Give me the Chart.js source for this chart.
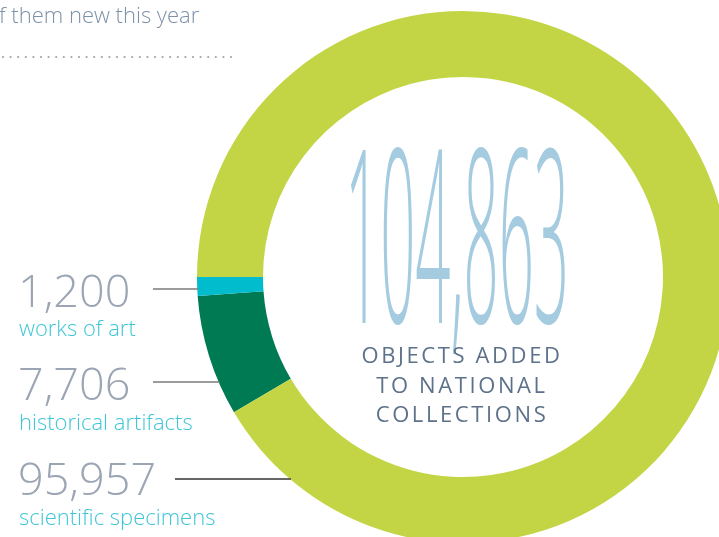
<!DOCTYPE html>
<html><head><meta charset="utf-8">
<script src="https://cdn.jsdelivr.net/npm/chart.js@4.4.1/dist/chart.umd.min.js"></script>
<style>
html,body{margin:0;padding:0;background:#fff;overflow:hidden;width:719px;height:537px;}
#wrap{position:absolute;left:0;top:0;width:760px;height:560px;}
</style></head>
<body>
<div id="wrap"><canvas id="c" width="760" height="560"></canvas></div>
<script>
const categories = ['works of art', 'historical artifacts', 'scientific specimens'];
const values = [1200, 7706, 95957];
const valueLabels = ['1,200', '7,706', '95,957'];
const totalLabel = '104,863';
const centerLines = ['OBJECTS ADDED', 'TO NATIONAL', 'COLLECTIONS'];
const topText = 'f them new this year';
const colors = ['#00bccd', '#007a53', '#c3d545'];

const total = values.reduce((a, b) => a + b, 0);
const order = [1, 0, 2]; // clockwise drawing order
const rotation = 270 - (values[1] + values[0]) / total * 360;

const FONT = '"Open Sans", "Lato", sans-serif';

const textPlugin = {
  id: 'texts',
  afterDraw(chart) {
    const ctx = chart.ctx;
    const arc = chart.getDatasetMeta(0).data[0];
    const cx = arc.x, cy = arc.y, R = arc.outerRadius;
    ctx.save();
    // top text
    ctx.fillStyle = '#7d91a7';
    ctx.font = '300 22px ' + FONT;
    ctx.textAlign = 'left';
    ctx.textBaseline = 'alphabetic';
    ctx.fillText(topText, -1, 23);
    // dotted rule
    ctx.fillStyle = '#9ea3ab';
    for (let x = 3; x <= 231; x += 7.6) {
      ctx.beginPath(); ctx.arc(x, 57, 1.1, 0, Math.PI * 2); ctx.fill();
    }
    // left labels
    const numBase = [307, 400, 495];
    const subBase = [336, 430, 525];
    const lineY = [289, 382, 479];
    const lineX0 = [153, 153, 175];
    const lineCol = ['#7a7a7a', '#7a7a7a', '#333333'];
    for (let i = 0; i < 3; i++) {
      ctx.fillStyle = '#9ba5b4';
      ctx.font = '300 45px ' + FONT;
      ctx.fillText(valueLabels[i], 18, numBase[i]);
      ctx.fillStyle = '#3ec6d7';
      ctx.font = '300 22px ' + FONT;
      ctx.fillText(categories[i], 19, subBase[i]);
      const dy = lineY[i] - cy;
      const xe = cx - Math.sqrt(R * R - dy * dy);
      ctx.strokeStyle = lineCol[i];
      ctx.lineWidth = 1.5;
      ctx.beginPath(); ctx.moveTo(lineX0[i], lineY[i]); ctx.lineTo(xe + 1, lineY[i]); ctx.stroke();
    }
    // center number (condensed)
    ctx.fillStyle = '#a4cbdf';
    ctx.font = '300 240px ' + FONT;
    const m = ctx.measureText(totalLabel);
    const w = m.width;
    const asc = m.actualBoundingBoxAscent;
    const sx = 224 / w, sy = 176 / asc;
    ctx.save();
    ctx.translate(cx - 6 - 224 / 2, 323);
    ctx.scale(sx, sy);
    ctx.fillText(totalLabel, 0, 0);
    ctx.restore();
    // center caption
    ctx.fillStyle = '#5d718a';
    ctx.font = '400 22px ' + FONT;
    ctx.textAlign = 'center';
    try { ctx.letterSpacing = '2.6px'; } catch (e) {}
    const capBase = [363, 393, 422];
    for (let i = 0; i < centerLines.length; i++) {
      ctx.fillText(centerLines[i], cx - 1, capBase[i]);
    }
    ctx.restore();
  }
};

new Chart(document.getElementById('c'), {
  type: 'doughnut',
  data: {
    labels: order.map(i => categories[i]),
    datasets: [{
      data: order.map(i => values[i]),
      backgroundColor: order.map(i => colors[i]),
      borderWidth: 0,
      hoverOffset: 0
    }]
  },
  options: {
    responsive: false,
    animation: false,
    rotation: rotation,
    cutout: 200,
    events: [],
    layout: { padding: { left: 197, top: 11, right: 31, bottom: 17 } },
    plugins: { legend: { display: false }, tooltip: { enabled: false } }
  },
  plugins: [textPlugin]
});
</script>
</body></html>
